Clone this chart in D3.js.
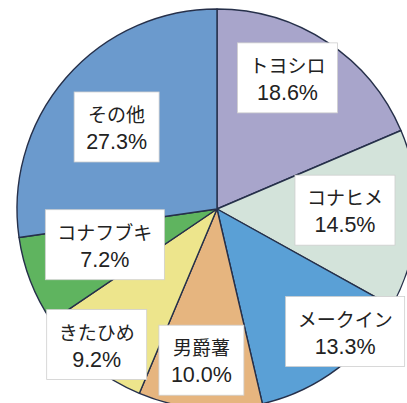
<!DOCTYPE html>
<html>
<head>
<meta charset="utf-8">
<script src="https://cdn.jsdelivr.net/npm/d3@7"></script>
<style>
  html, body { margin: 0; padding: 0; background: #fff; overflow: hidden; }
</style>
</head>
<body>
<div id="chart"></div>
<script>
// shares of potato varieties, clockwise from 12 o'clock
let varieties = ['トヨシロ', 'コナヒメ', 'メークイン', '男爵薯', 'きたひめ', 'コナフブキ', 'その他']
let shares = [18.6, 14.5, 13.3, 10.0, 9.2, 7.2, 27.3]
let shareLabels = ['18.6%', '14.5%', '13.3%', '10.0%', '9.2%', '7.2%', '27.3%']

let width = 407,
  height = 403,
  cx = 217, // pie centre
  cy = 209,
  radius = 200

let colors = d3.scaleOrdinal()
  .domain(varieties)
  .range(['#a8a5cb', '#d3e3da', '#5aa0d6', '#e6b57f', '#ede58c', '#5fb45f', '#6b9acd'])

// where each label box sits: distance from centre and a small angle tweak (deg)
let labelPlace = {
  'トヨシロ': { r: 148, da: -5 },
  'コナヒメ': { r: 128, da: -2 },
  'メークイン': { r: 178, da: -9 },
  '男爵薯': { r: 153, da: 1 },
  'きたひめ': { r: 182, da: 2 },
  'コナフブキ': { r: 118, da: 3 },
  'その他': { r: 129, da: -2 }
}
let boxPad = { x: 12, top: 8, bottom: 8 }

let data = varieties.map((v, i) => ({ name: v, value: shares[i], label: shareLabels[i] }))

let pie = d3.pie()
  .value(d => d.value)
  .sort(null)

let arc = d3.arc()
  .innerRadius(0)
  .outerRadius(radius)

let svg = d3.select('#chart').append('svg')
  .attr('width', width)
  .attr('height', height)

let g = svg.append('g')
  .attr('transform', 'translate(' + cx + ',' + cy + ')')

let arcs = pie(data)

g.selectAll('.slice')
  .data(arcs)
  .enter().append('path')
  .attr('class', 'slice')
  .attr('d', arc)
  .attr('fill', d => colors(d.data.name))
  .attr('stroke', '#26304a')
  .attr('stroke-width', 1.4)
  .attr('stroke-linejoin', 'round')

let labels = g.selectAll('.label')
  .data(arcs)
  .enter().append('g')
  .attr('class', 'label')
  .attr('transform', function (d) {
    let p = labelPlace[d.data.name]
    let a = (d.startAngle + d.endAngle) / 2 + p.da * Math.PI / 180
    return 'translate(' + (Math.sin(a) * p.r) + ',' + (-Math.cos(a) * p.r) + ')'
  })

let box = labels.append('rect')
  .attr('fill', '#fff')
  .attr('stroke', '#cfcfcf')
  .attr('stroke-width', 0.8)

labels.append('text')
  .attr('class', 'name')
  .attr('text-anchor', 'middle')
  .attr('y', -6)
  .attr('font-family', '"Noto Sans CJK JP", "Liberation Sans", sans-serif')
  .attr('font-size', '19px')
  .attr('fill', '#222')
  .text(d => d.data.name)

labels.append('text')
  .attr('class', 'value')
  .attr('text-anchor', 'middle')
  .attr('y', 21)
  .attr('font-family', '"Liberation Sans", Arial, sans-serif')
  .attr('font-size', '21.5px')
  .attr('fill', '#222')
  .text(d => d.data.label)

// size the white boxes around the two lines of text
labels.each(function () {
  let node = d3.select(this)
  let bb = this.getBBox()
  node.select('rect')
    .attr('x', bb.x - boxPad.x)
    .attr('y', bb.y - boxPad.top)
    .attr('width', bb.width + boxPad.x * 2)
    .attr('height', bb.height + boxPad.top + boxPad.bottom)
})
</script>
</body>
</html>
